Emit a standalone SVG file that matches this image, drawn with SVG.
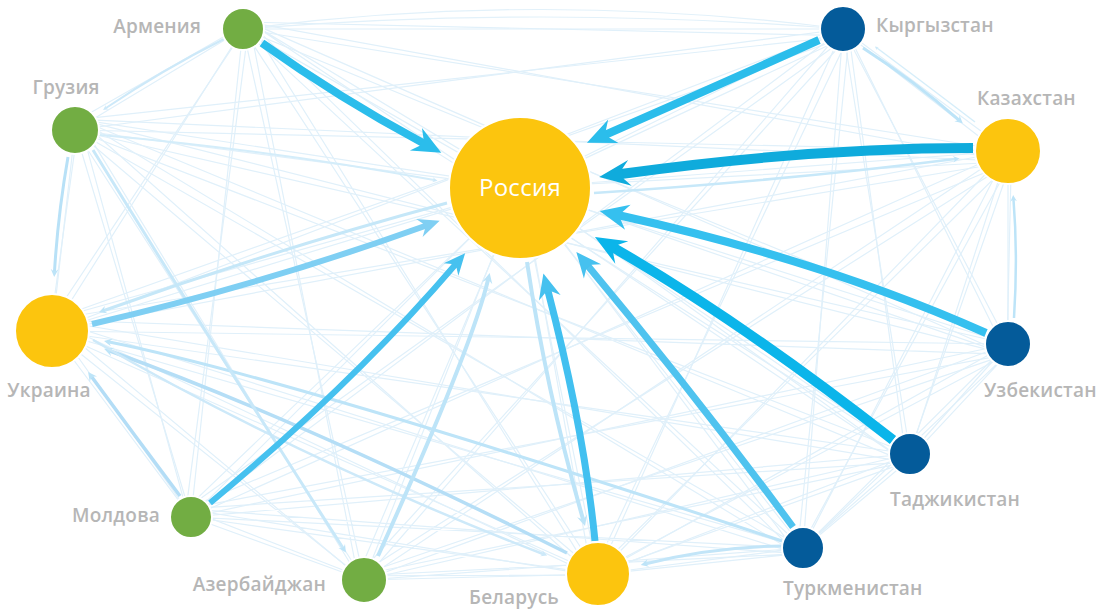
<svg xmlns="http://www.w3.org/2000/svg" width="1096" height="611" viewBox="0 0 1096 611">
<style>
.web{fill:none;stroke:#e0f0fa;stroke-width:1.2}
.c{fill:none;stroke-linecap:butt}
.lbl{font-family:"Open Sans","Noto Sans","DejaVu Sans",sans-serif;font-size:19px;font-weight:600;fill:#b6b6b6;letter-spacing:0.2px}
.nd{stroke:#fff;stroke-width:2}
.g{fill:#72ad43}.y{fill:#fcc50e}.b{fill:#045b9a}
</style>
<defs>
<marker id="mA" viewBox="-3.7 -1.7 3.8 3.4" markerWidth="3.8" markerHeight="3.4" refX="-2.6" refY="0" orient="auto" markerUnits="strokeWidth"><path d="M0,0L-3.6,-1.6L-2.8,-0.5L-2.8,0.5L-3.6,1.6Z" fill="#2bbdeb"/></marker>
<marker id="mUz" viewBox="-3.7 -1.7 3.8 3.4" markerWidth="3.8" markerHeight="3.4" refX="-2.6" refY="0" orient="auto" markerUnits="strokeWidth"><path d="M0,0L-3.6,-1.6L-2.8,-0.5L-2.8,0.5L-3.6,1.6Z" fill="#35c0ef"/></marker>
<marker id="mM" viewBox="-3.7 -1.7 3.8 3.4" markerWidth="3.8" markerHeight="3.4" refX="-2.6" refY="0" orient="auto" markerUnits="strokeWidth"><path d="M0,0L-3.6,-1.6L-2.8,-0.5L-2.8,0.5L-3.6,1.6Z" fill="#46c1ef"/></marker>
<marker id="mU" viewBox="-3.7 -1.7 3.8 3.4" markerWidth="3.8" markerHeight="3.4" refX="-2.6" refY="0" orient="auto" markerUnits="strokeWidth"><path d="M0,0L-3.6,-1.6L-2.8,-0.5L-2.8,0.5L-3.6,1.6Z" fill="#7fcff3"/></marker>
<marker id="mK" viewBox="-3.2 -1.4 3.3 2.8" markerWidth="3.3" markerHeight="2.8" refX="-2.2" refY="0" orient="auto" markerUnits="strokeWidth"><path d="M0,0L-3.1,-1.3L-2.4,-0.5L-2.4,0.5L-3.1,1.3Z" fill="#0fabdc"/></marker>
<marker id="mT" viewBox="-3.2 -1.4 3.3 2.8" markerWidth="3.3" markerHeight="2.8" refX="-2.2" refY="0" orient="auto" markerUnits="strokeWidth"><path d="M0,0L-3.1,-1.3L-2.4,-0.5L-2.4,0.5L-3.1,1.3Z" fill="#0bb5ea"/></marker>
<marker id="mL" viewBox="-2.7 -1.4 2.8 2.8" markerWidth="2.8" markerHeight="2.8" refX="-1.8" refY="0" orient="auto" markerUnits="strokeWidth"><path d="M0,0L-2.6,-1.3L-2,-0.5L-2,0.5L-2.6,1.3Z" fill="#bde4f8"/></marker>
<marker id="mF" viewBox="-2.7 -1.4 2.8 2.8" markerWidth="2.8" markerHeight="2.8" refX="-1.8" refY="0" orient="auto" markerUnits="strokeWidth"><path d="M0,0L-2.6,-1.3L-2,-0.5L-2,0.5L-2.6,1.3Z" fill="#cde9f9"/></marker>
</defs>
<rect width="1096" height="611" fill="#fff"/>
<g id="connectors">
<path id="web" class="web" d="M243 29L75 130M243 29L52 331M243 29L191 517M243 29L364 580M243 29L598 574M243 29L803 548M243 29L910 454M243 29L1008 344M243 29L1008 151M243 29L843 29M243 29L520 188M75 130L52 331M75 130L191 517M75 130L364 580M75 130L598 574M75 130L803 548M75 130L910 454M75 130L1008 344M75 130L1008 151M75 130L843 29M75 130L520 188M52 331L191 517M52 331L364 580M52 331L598 574M52 331L803 548M52 331L910 454M52 331L1008 344M52 331L1008 151M52 331L843 29M52 331L520 188M191 517L364 580M191 517L598 574M191 517L803 548M191 517L910 454M191 517L1008 344M191 517L1008 151M191 517L843 29M191 517L520 188M364 580L598 574M364 580L803 548M364 580L910 454M364 580L1008 344M364 580L1008 151M364 580L843 29M364 580L520 188M598 574L803 548M598 574L910 454M598 574L1008 344M598 574L1008 151M598 574L843 29M598 574L520 188M803 548L910 454M803 548L1008 344M803 548L1008 151M803 548L843 29M803 548L520 188M910 454L1008 344M910 454L1008 151M910 454L843 29M910 454L520 188M1008 344L1008 151M1008 344L843 29M1008 344L520 188M1008 151L843 29M1008 151L520 188M843 29L520 188"/>
<use href="#web" transform="rotate(1.3 548 300)"/>
<path class="c" d="M243 29Q540 -10 843 29" stroke="#e2f1fa" stroke-width="1.2"/>
<path class="c" d="M243 29Q540 5 843 29" stroke="#e2f1fa" stroke-width="1.2"/>
<!-- light connectors -->
<path class="c" d="M224 39Q162 70 106 108" stroke="#cde9f9" stroke-width="2" marker-end="url(#mF)"/>
<path class="c" d="M68 157Q58 214 54.5 271.5" stroke="#b8e1f7" stroke-width="3" marker-end="url(#mL)"/>
<path class="c" d="M863 48Q913 80 958.7 119.8" stroke="#bde4f8" stroke-width="3" marker-end="url(#mL)"/>
<path class="c" d="M975 122Q920 80 877 48" stroke="#d6eefa" stroke-width="1.5" marker-end="url(#mF)"/>
<path class="c" d="M1014 318Q1018 256 1013.5 199.5" stroke="#bde4f8" stroke-width="2.5" marker-end="url(#mL)"/>
<path class="c" d="M180 496Q135 436 91.8 377" stroke="#b3ddf6" stroke-width="3.5" marker-end="url(#mL)"/>
<path class="c" d="M567 553Q300 419.5 110 351" stroke="#b5def6" stroke-width="3.5" marker-end="url(#mL)"/>
<path class="c" d="M782 541Q287 377.5 109.3 342" stroke="#bde4f8" stroke-width="3" marker-end="url(#mL)"/>
<path class="c" d="M782 546Q713 547 646 563.7" stroke="#c2e5f8" stroke-width="3" marker-end="url(#mL)"/>
<path class="c" d="M93 340Q300 460 543 554" stroke="#cde9f9" stroke-width="2.5" marker-end="url(#mF)"/>
<path class="c" d="M93 150Q210 340 343 548" stroke="#c8e8f9" stroke-width="3" marker-end="url(#mL)"/>
<path class="c" d="M594 193Q790 180 955 159" stroke="#c7e8f9" stroke-width="2.5" marker-end="url(#mL)"/>
<path class="c" d="M100 135Q270 150 434 180" stroke="#d4edfa" stroke-width="2" marker-end="url(#mF)"/>
<path class="c" d="M378 556Q471 350 488 280" stroke="#bde4f8" stroke-width="4" marker-end="url(#mL)"/>
<path class="c" d="M527 262Q547 394 583 519" stroke="#bde4f8" stroke-width="4" marker-end="url(#mL)"/>
<path class="c" d="M447 203Q273 250 104 310.5" stroke="#c5e7f8" stroke-width="3" marker-end="url(#mL)"/>
<!-- strong connectors to Russia -->
<path class="c" d="M92 324Q261 285 425 226" stroke="#7fcff3" stroke-width="6" marker-end="url(#mU)"/>
<path class="c" d="M210 503Q353 384 455 265" stroke="#46c1ef" stroke-width="6" marker-end="url(#mM)"/>
<path class="c" d="M595 541Q584 429 548 291" stroke="#42c0f0" stroke-width="7" marker-end="url(#mM)"/>
<path class="c" d="M793 527Q694 393 588 266" stroke="#4fc3ef" stroke-width="7" marker-end="url(#mM)"/>
<path class="c" d="M893 440Q742 322 614 248" stroke="#0bb5ea" stroke-width="10" marker-end="url(#mT)"/>
<path class="c" d="M986 333Q825 261 620 215.5" stroke="#35c0ef" stroke-width="8" marker-end="url(#mUz)"/>
<path class="c" d="M973 148Q809 148 621 174" stroke="#0fabdc" stroke-width="10" marker-end="url(#mK)"/>
<path class="c" d="M819 40Q712 88 606 134.5" stroke="#2bbdeb" stroke-width="8" marker-end="url(#mA)"/>
<path class="c" d="M262 43Q339 98 423 143" stroke="#2bbdeb" stroke-width="8" marker-end="url(#mA)"/>
</g>
<g id="node-russia"><circle class="nd y" cx="520" cy="188" r="71" stroke-width="3"/><text x="520" y="196" text-anchor="middle" font-family="'Open Sans','Noto Sans',sans-serif" font-size="24" font-weight="500" fill="#fff" letter-spacing="0.3">Россия</text></g>
<g id="node-armenia"><circle class="nd g" cx="243" cy="29" r="21"/><text class="lbl" x="201" y="33" text-anchor="end">Армения</text></g>
<g id="node-georgia"><circle class="nd g" cx="75" cy="130" r="24"/><text class="lbl" x="66" y="94" text-anchor="middle">Грузия</text></g>
<g id="node-ukraine"><circle class="nd y" cx="52" cy="331" r="37"/><text class="lbl" x="49" y="397" text-anchor="middle">Украина</text></g>
<g id="node-moldova"><circle class="nd g" cx="191" cy="517" r="21"/><text class="lbl" x="160" y="522" text-anchor="end">Молдова</text></g>
<g id="node-azerbaijan"><circle class="nd g" cx="364" cy="580" r="23"/><text class="lbl" x="326" y="591" text-anchor="end">Азербайджан</text></g>
<g id="node-belarus"><circle class="nd y" cx="598" cy="574" r="32"/><text class="lbl" x="559" y="604" text-anchor="end">Беларусь</text></g>
<g id="node-turkmenistan"><circle class="nd b" cx="803" cy="548" r="21"/><text class="lbl" x="783" y="595">Туркменистан</text></g>
<g id="node-tajikistan"><circle class="nd b" cx="910" cy="454" r="21"/><text class="lbl" x="890" y="506">Таджикистан</text></g>
<g id="node-uzbekistan"><circle class="nd b" cx="1008" cy="344" r="23"/><text class="lbl" x="984" y="397">Узбекистан</text></g>
<g id="node-kazakhstan"><circle class="nd y" cx="1008" cy="151" r="33"/><text class="lbl" x="977" y="105">Казахстан</text></g>
<g id="node-kyrgyzstan"><circle class="nd b" cx="843" cy="29" r="23"/><text class="lbl" x="876" y="32">Кыргызстан</text></g>
</svg>
